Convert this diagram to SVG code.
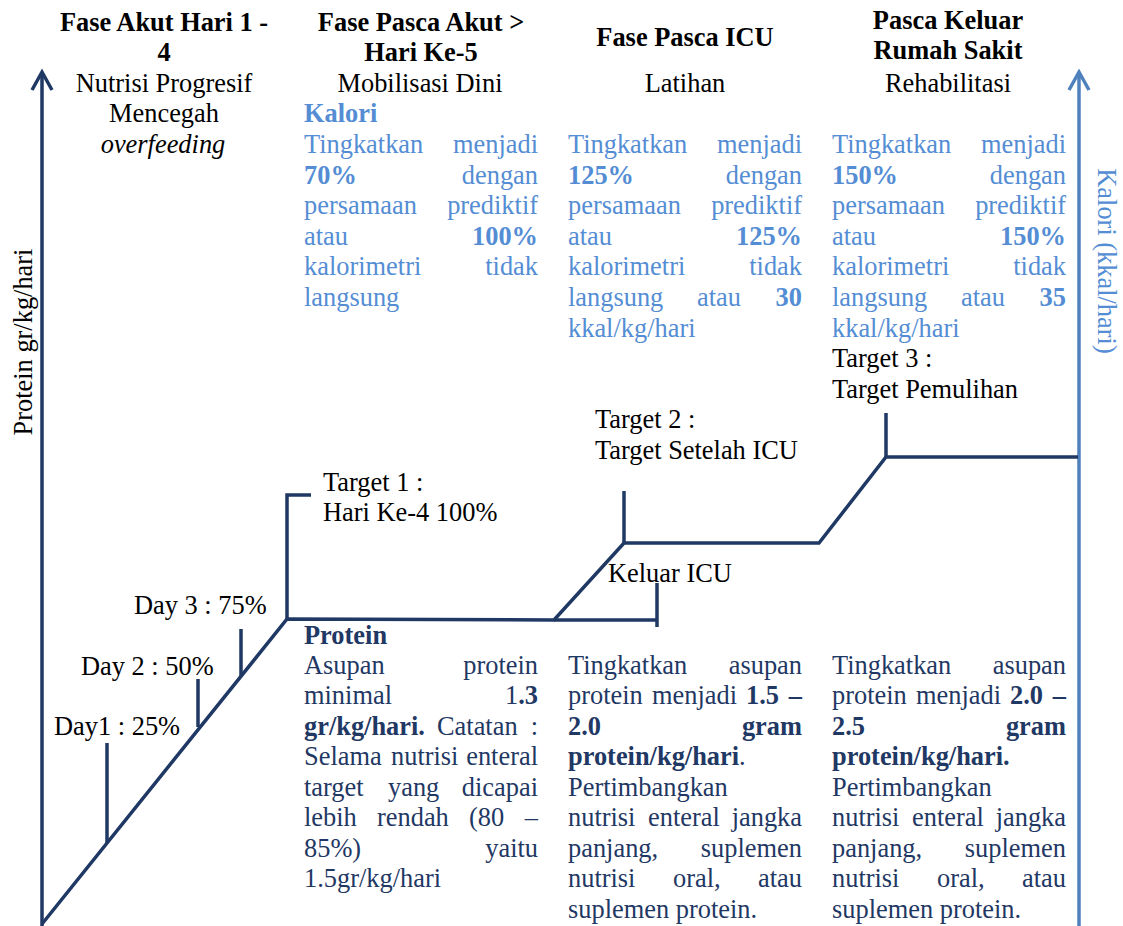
<svg xmlns="http://www.w3.org/2000/svg" width="1123" height="926" viewBox="0 0 1123 926">
<style>
text{font-family:"Liberation Serif","Times New Roman",serif;font-size:26.4px;fill:#000}
.h{font-weight:bold;text-anchor:middle}
.c{text-anchor:middle}
.k{fill:#548DD4}
.p{fill:#1F3864}
.b{font-weight:bold}
.e{text-anchor:end}
.ln{fill:none;stroke:#1F3864;stroke-width:3.5;stroke-linejoin:miter}
.lb{fill:none;stroke:#4F81BD;stroke-width:3.5}
</style>
<defs>
<marker id="arrN" viewBox="-22 -12 26 24" refX="0" refY="0" markerWidth="26" markerHeight="24" markerUnits="userSpaceOnUse" orient="auto">
<path d="M-18,-10 L0,0 L-18,10" fill="none" stroke="#1F3864" stroke-width="3.5"/>
</marker>
<marker id="arrB" viewBox="-22 -12 26 24" refX="0" refY="0" markerWidth="26" markerHeight="24" markerUnits="userSpaceOnUse" orient="auto">
<path d="M-18,-10 L0,0 L-18,10" fill="none" stroke="#4F81BD" stroke-width="3.5"/>
</marker>
</defs>
<rect width="1123" height="926" fill="#fff"/>

<g id="connectors">
<path class="ln" d="M42,926 L42,72" marker-end="url(#arrN)"/>
<path class="lb" d="M1079,926 L1079,72" marker-end="url(#arrB)"/>
<path class="ln" d="M42,924 L287,619 L554,620 L624,543 L819,543 L886,457 L1078,457"/>
<path class="ln" d="M287,619 L287,495 L311,495"/>
<path class="ln" d="M554,620 L657,620 M657,583 L657,627"/>
<path class="ln" d="M624,543 L624,491"/>
<path class="ln" d="M886,457 L886,413"/>
<path class="ln" d="M107,843 L107,743 M198,727 L198,679 M241,676 L241,629"/>
</g>

<g id="axis-protein">
<text class="c" transform="translate(32,342) rotate(-90)">Protein gr/kg/hari</text>
</g>
<g id="axis-kalori">
<text class="c k" transform="translate(1098,261) rotate(90)">Kalori (kkal/hari)</text>
</g>

<g id="phase-akut">
<text class="h" x="164" y="31">Fase Akut Hari 1 -</text>
<text class="h" x="164" y="61">4</text>
<text class="c" x="164" y="92">Nutrisi Progresif</text>
<text class="c" x="164" y="122">Mencegah</text>
<text class="c" x="163" y="153" font-style="italic">overfeeding</text>
</g>

<g id="days">
<text x="134" y="614">Day 3 : 75%</text>
<text x="81" y="675">Day 2 : 50%</text>
<text x="54" y="735">Day1 : 25%</text>
</g>

<g id="phase-pasca-akut">
<text class="h" x="421" y="31">Fase Pasca Akut &gt;</text>
<text class="h" x="421" y="61">Hari Ke-5</text>
<text class="c" x="420" y="92">Mobilisasi Dini</text>
<text class="k b" x="304" y="122">Kalori</text>
<text class="k" x="304" y="153">Tingkatkan</text><text class="k e" x="538" y="153">menjadi</text>
<text class="k b" x="304" y="183.6">70%</text><text class="k e" x="538" y="183.6">dengan</text>
<text class="k" x="304" y="214.2">persamaan</text><text class="k e" x="538" y="214.2">prediktif</text>
<text class="k" x="304" y="244.8">atau</text><text class="k e b" x="538" y="244.8">100%</text>
<text class="k" x="304" y="275.4">kalorimetri</text><text class="k e" x="538" y="275.4">tidak</text>
<text class="k" x="304" y="306">langsung</text>
<text class="p b" x="304" y="643.5">Protein</text>
<text class="p" x="304" y="673.5">Asupan</text><text class="p e" x="538" y="673.5">protein</text>
<text class="p" x="304" y="704">minimal</text><text class="p e" x="538" y="704">1<tspan class="b">.3</tspan></text>
<text class="p b" x="304" y="734.5">gr/kg/hari.</text><text class="p" x="437" y="734.5">Catatan</text><text class="p e" x="538" y="734.5">:</text>
<text class="p" x="304" y="765">Selama</text><text class="p" x="391" y="765">nutrisi</text><text class="p e" x="538" y="765">enteral</text>
<text class="p" x="304" y="795.5">target</text><text class="p" x="388" y="795.5">yang</text><text class="p e" x="538" y="795.5">dicapai</text>
<text class="p" x="304" y="826">lebih</text><text class="p" x="377" y="826">rendah</text><text class="p" x="469" y="826">(80</text><text class="p e" x="538" y="826">–</text>
<text class="p" x="304" y="856.5">85%)</text><text class="p e" x="538" y="856.5">yaitu</text>
<text class="p" x="304" y="887">1.5gr/kg/hari</text>
</g>

<g id="target-1">
<text x="323" y="491">Target 1 :</text>
<text x="323" y="521">Hari Ke-4 100%</text>
</g>

<g id="phase-pasca-icu">
<text class="h" x="685" y="46">Fase Pasca ICU</text>
<text class="c" x="685" y="92">Latihan</text>
<text class="k" x="568" y="153">Tingkatkan</text><text class="k e" x="802" y="153">menjadi</text>
<text class="k b" x="568" y="183.6">125%</text><text class="k e" x="802" y="183.6">dengan</text>
<text class="k" x="568" y="214.2">persamaan</text><text class="k e" x="802" y="214.2">prediktif</text>
<text class="k" x="568" y="244.8">atau</text><text class="k e b" x="802" y="244.8">125%</text>
<text class="k" x="568" y="275.4">kalorimetri</text><text class="k e" x="802" y="275.4">tidak</text>
<text class="k" x="568" y="306">langsung</text><text class="k" x="697" y="306">atau</text><text class="k e b" x="802" y="306">30</text>
<text class="k" x="568" y="336.6">kkal/kg/hari</text>
<text class="p" x="568" y="673.5">Tingkatkan</text><text class="p e" x="802" y="673.5">asupan</text>
<text class="p" x="568" y="704">protein</text><text class="p" x="652" y="704">menjadi</text><text class="p b" x="746" y="704">1.5</text><text class="p b e" x="802" y="704">–</text>
<text class="p b" x="568" y="734.5">2.0</text><text class="p b e" x="802" y="734.5">gram</text>
<text class="p" x="568" y="765"><tspan class="b">protein/kg/hari</tspan>.</text>
<text class="p" x="568" y="795.5">Pertimbangkan</text>
<text class="p" x="568" y="826">nutrisi</text><text class="p" x="648" y="826">enteral</text><text class="p e" x="802" y="826">jangka</text>
<text class="p" x="568" y="856.5">panjang,</text><text class="p e" x="802" y="856.5">suplemen</text>
<text class="p" x="568" y="887">nutrisi</text><text class="p" x="673" y="887">oral,</text><text class="p e" x="802" y="887">atau</text>
<text class="p" x="568" y="917.5">suplemen protein.</text>
</g>

<g id="keluar-icu">
<text x="608" y="582">Keluar ICU</text>
</g>

<g id="target-2">
<text x="595" y="428">Target 2 :</text>
<text x="595" y="459">Target Setelah ICU</text>
</g>

<g id="phase-pasca-rs">
<text class="h" x="948" y="29">Pasca Keluar</text>
<text class="h" x="948" y="59">Rumah Sakit</text>
<text class="c" x="948" y="92">Rehabilitasi</text>
<text class="k" x="832" y="153">Tingkatkan</text><text class="k e" x="1066" y="153">menjadi</text>
<text class="k b" x="832" y="183.6">150%</text><text class="k e" x="1066" y="183.6">dengan</text>
<text class="k" x="832" y="214.2">persamaan</text><text class="k e" x="1066" y="214.2">prediktif</text>
<text class="k" x="832" y="244.8">atau</text><text class="k e b" x="1066" y="244.8">150%</text>
<text class="k" x="832" y="275.4">kalorimetri</text><text class="k e" x="1066" y="275.4">tidak</text>
<text class="k" x="832" y="306">langsung</text><text class="k" x="961" y="306">atau</text><text class="k e b" x="1066" y="306">35</text>
<text class="k" x="832" y="336.6">kkal/kg/hari</text>
<text class="p" x="832" y="673.5">Tingkatkan</text><text class="p e" x="1066" y="673.5">asupan</text>
<text class="p" x="832" y="704">protein</text><text class="p" x="916" y="704">menjadi</text><text class="p b" x="1010" y="704">2.0</text><text class="p b e" x="1066" y="704">–</text>
<text class="p b" x="832" y="734.5">2.5</text><text class="p b e" x="1066" y="734.5">gram</text>
<text class="p b" x="832" y="765">protein/kg/hari.</text>
<text class="p" x="832" y="795.5">Pertimbangkan</text>
<text class="p" x="832" y="826">nutrisi</text><text class="p" x="912" y="826">enteral</text><text class="p e" x="1066" y="826">jangka</text>
<text class="p" x="832" y="856.5">panjang,</text><text class="p e" x="1066" y="856.5">suplemen</text>
<text class="p" x="832" y="887">nutrisi</text><text class="p" x="937" y="887">oral,</text><text class="p e" x="1066" y="887">atau</text>
<text class="p" x="832" y="917.5">suplemen protein.</text>
</g>

<g id="target-3">
<text x="832" y="367">Target 3 :</text>
<text x="832" y="398">Target Pemulihan</text>
</g>
</svg>
